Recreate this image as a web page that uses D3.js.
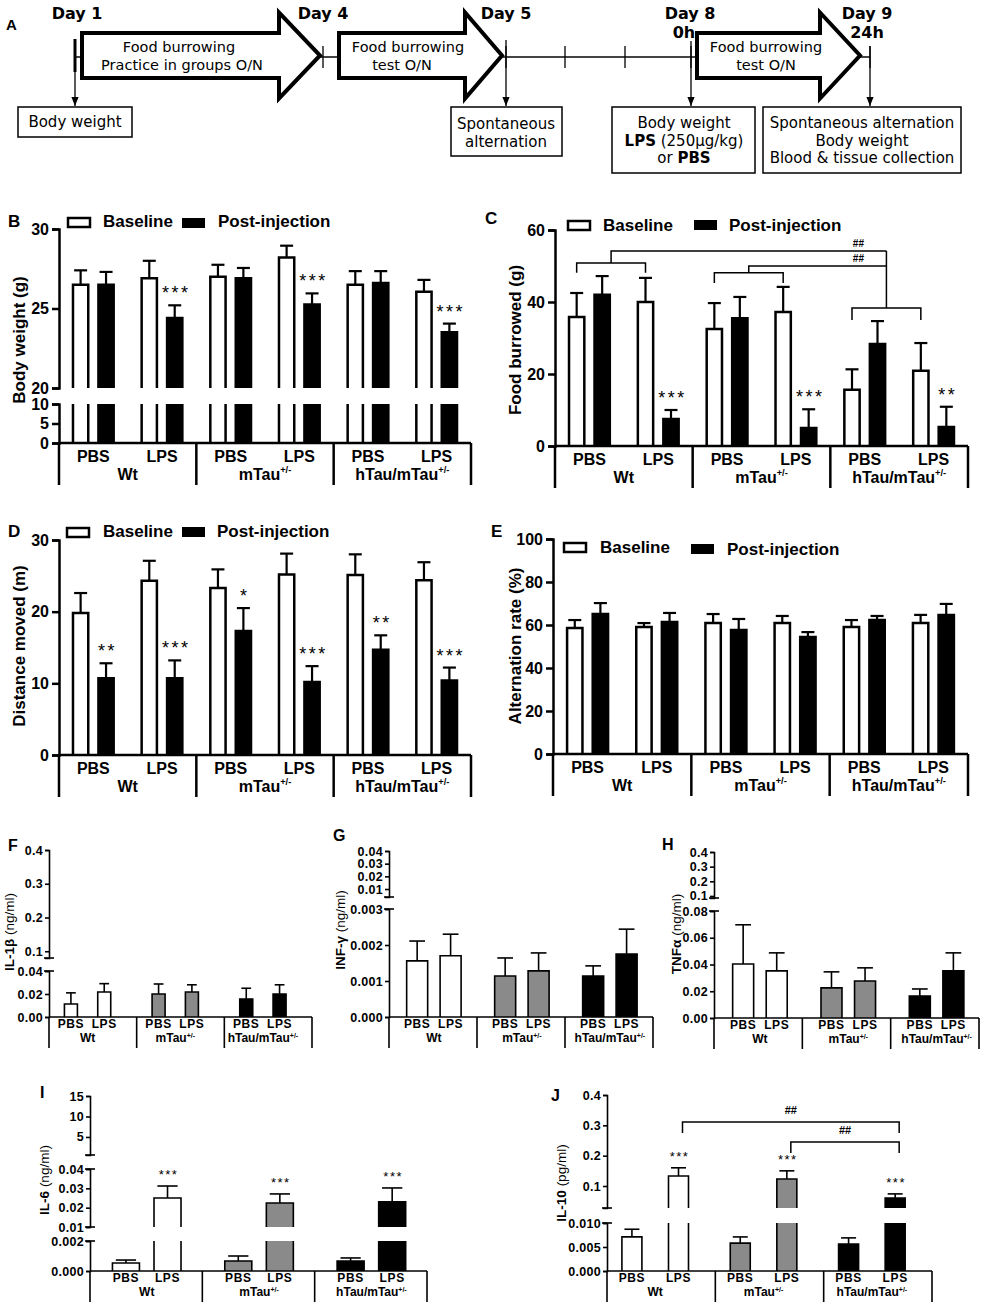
<!DOCTYPE html>
<html><head><meta charset="utf-8">
<script src="https://cdn.jsdelivr.net/npm/d3@7"></script>
<style>
body{margin:0;background:#fff}
svg{display:block}
</style>
</head><body>
<svg id="fig" width="984" height="1310"></svg>
<script>
// ---------------- DATA ----------------
const conditions = ["Wt PBS","Wt LPS","mTau PBS","mTau LPS","hTau PBS","hTau LPS"];
const treatments = ["PBS","LPS"];
const genotypes = ["Wt","mTau","hTau/mTau"];
const genotypeSup = ["","+/-","+/-"];
const seriesNames = ["Baseline","Post-injection"];

// B: body weight (g)
const bodyBase = [26.5, 26.9, 27.0, 28.2, 26.5, 26.05];
const bodyBaseErr = [0.9, 1.1, 0.75, 0.75, 0.85, 0.75];
const bodyPost = [26.5, 24.4, 26.9, 25.25, 26.6, 23.5];
const bodyPostErr = [0.8, 0.8, 0.65, 0.7, 0.75, 0.55];
const bodyStars = ["","***","","***","","***"];

// C: food burrowed (g)
const foodBase = [35.8, 40.0, 32.5, 37.2, 15.6, 20.9];
const foodBaseErr = [6.7, 6.7, 7.2, 7.0, 5.7, 7.7];
const foodPost = [42.0, 7.5, 35.5, 5.0, 28.3, 5.3];
const foodPostErr = [5.2, 2.5, 5.9, 5.2, 6.4, 5.6];
const foodStars = ["","***","","***","","**"];

// D: distance moved (m)
const distBase = [19.8, 24.3, 23.3, 25.2, 25.1, 24.4];
const distBaseErr = [2.8, 2.8, 2.6, 2.9, 2.9, 2.5];
const distPost = [10.7, 10.7, 17.3, 10.2, 14.7, 10.4];
const distPostErr = [2.1, 2.5, 3.2, 2.2, 2.0, 1.8];
const distStars = ["**","***","*","***","**","***"];

// E: alternation rate (%)
const altBase = [58.6, 59.1, 60.9, 60.9, 59.1, 60.9];
const altBaseErr = [3.7, 1.8, 4.2, 3.3, 3.2, 3.8];
const altPost = [65.1, 61.4, 57.7, 54.4, 62.3, 64.7];
const altPostErr = [5.1, 4.2, 5.1, 2.3, 1.9, 5.1];
const altStars = ["","","","","",""];

// F-J cytokines (order = conditions)
const il1b = [0.0113, 0.0217, 0.020, 0.0217, 0.0157, 0.020];
const il1bErr = [0.0097, 0.0073, 0.0087, 0.0063, 0.0093, 0.008];
const infg = [0.00156, 0.0017, 0.00114, 0.00128, 0.00114, 0.00175];
const infgErr = [0.00055, 0.0006, 0.0005, 0.0005, 0.00028, 0.00069];
const tnfa = [0.0404, 0.0352, 0.0225, 0.0277, 0.0165, 0.0352];
const tnfaErr = [0.0293, 0.0135, 0.012, 0.0098, 0.0052, 0.0135];
const il6 = [0.00053, 0.025, 0.00067, 0.0224, 0.00067, 0.023];
const il6Err = [0.0002, 0.0062, 0.00033, 0.0047, 0.0002, 0.0072];
const il6Stars = ["","***","","***","","***"];
const il10 = [0.0071, 0.133, 0.0058, 0.123, 0.0056, 0.06];
const il10Err = [0.0016, 0.027, 0.0013, 0.027, 0.0013, 0.014];
const il10Stars = ["","***","","***","","***"];
const genotypeFills = ["#ffffff","#8a8a8a","#000000"];

// Significance brackets (data units)
const foodBrackets = [
  {from:0, lvl:50.8, foot:48.1, top:54.2},
  {from:1, lvl:48.1, foot:45.3, top:50.0}
];
const foodTarget = {g:2, lvl:38.3, foot:35.0};
const il10Brackets = [
  {a:1, b:5, lvl:0.311, foot:0.275},
  {a:3, b:5, lvl:0.245, foot:0.209}
];

// ---------------- DRAWING ----------------
const FONT = "'Liberation Sans', Arial, Helvetica, sans-serif";
const DJ = "'DejaVu Sans', Verdana, sans-serif";
const svg = d3.select("#fig");

function txt(g, s, x, y, o={}){
  return g.append("text").attr("x",x).attr("y",y).text(s)
    .attr("font-family",o.ff||FONT).attr("font-size",o.fs||16)
    .attr("font-weight",o.fw||"bold").attr("text-anchor",o.anchor||"start")
    .attr("fill","#000");
}

function makeSegs(segs){
  return segs.map(s=>Object.assign({}, s, {scale:d3.scaleLinear().domain(s.d).range(s.r)}));
}

function drawAxes(g, x0, segs, o){
  segs.forEach(s=>{
    const ax = g.append("g").attr("transform",`translate(${x0},0)`)
      .call(d3.axisLeft(s.scale).tickValues(s.ticks).tickFormat(d3.format(s.fmt||"d"))
        .tickSizeOuter(0).tickSize(o.tick).tickPadding(o.pad));
    ax.select(".domain").attr("stroke","#000").attr("stroke-width",o.sw);
    ax.selectAll(".tick line").attr("stroke","#000").attr("stroke-width",o.sw);
    ax.selectAll(".tick text").attr("font-size",o.fs).attr("font-weight","bold")
      .attr("font-family",FONT).attr("fill","#000").attr("letter-spacing",o.ls||0);
  });
  if (o.breaks){
    segs.forEach((t,i)=>{
      const ys=[]; if(i>0) ys.push(t.r[0]); if(i<segs.length-1) ys.push(t.r[1]);
      ys.forEach(y=>g.append("line").attr("x1",x0-5).attr("x2",x0+5).attr("y1",y).attr("y2",y)
        .attr("stroke","#000").attr("stroke-width",o.sw));
    });
  }
}

function drawBar(g, x, w, v, segs, fill, sw){
  segs.forEach(s=>{
    if (v <= s.d[0]) return;
    const top = Math.min(v, s.d[1]);
    const yb = s.scale(s.d[0]), yt = s.scale(top);
    g.append("rect").attr("x",x).attr("y",yt).attr("width",w).attr("height",yb-yt).attr("fill",fill);
    let p = `M${x},${yb}V${yt}`;
    if (v <= s.d[1]) p += `H${x+w}`; else p += `M${x+w},${yt}`;
    p += `V${yb}`;
    g.append("path").attr("d",p).attr("fill","none").attr("stroke","#000").attr("stroke-width",sw);
  });
}

function segFor(segs, v){
  return segs.find(s=> v > s.d[0] && v <= s.d[1]) || segs[segs.length-1];
}

function drawErr(g, cx, v, e, segs, sw, cap){
  const s = segFor(segs, v+e);
  const y1 = s.scale(Math.max(v, s.d[0])), y2 = s.scale(v+e);
  g.append("line").attr("x1",cx).attr("x2",cx).attr("y1",y1).attr("y2",y2).attr("stroke","#000").attr("stroke-width",sw);
  g.append("line").attr("x1",cx-cap/2).attr("x2",cx+cap/2).attr("y1",y2).attr("y2",y2).attr("stroke","#000").attr("stroke-width",sw);
  return y2;
}

function genoLabel(g, i, x, y, fs, supRaise){
  const t = txt(g, genotypes[i], x, y, {fs:fs, anchor:"middle"});
  if (genotypeSup[i]){
    t.append("tspan").text(genotypeSup[i]).attr("font-size",fs*0.58).attr("dy",-fs*supRaise);
  }
  return t;
}

function behaviorPanel(o){
  const g = svg.append("g");
  const xC = d3.scaleBand().domain(conditions).range([o.x0,o.x1]);
  const xS = d3.scaleBand().domain(seriesNames).range([0,xC.bandwidth()]).paddingInner(0.4).paddingOuter(0.55);
  const segs = makeSegs(o.segs);
  const y0 = segs[0].scale(0);
  const bw = xS.bandwidth();
  conditions.forEach((c,i)=>{
    [[o.base,o.baseErr,"#fff"],[o.post,o.postErr,"#000"]].forEach((sr,k)=>{
      const x = xC(c)+xS(seriesNames[k]);
      drawBar(g, x, bw, sr[0][i], segs, sr[2], 2.5);
      const yt = drawErr(g, x+bw/2, sr[0][i], sr[1][i], segs, 2.2, 13);
      if (k===1 && o.stars[i]){
        txt(g, o.stars[i], x+bw/2+1.5, yt-6, {fs:18, fw:"normal", anchor:"middle"}).attr("letter-spacing",2.5);
      }
    });
  });
  drawAxes(g, o.x0, segs, {tick:7, pad:3, sw:2.5, fs:16});
  g.append("line").attr("x1",o.x0).attr("x2",o.x1).attr("y1",y0).attr("y2",y0).attr("stroke","#000").attr("stroke-width",2.5);
  const gw = (o.x1-o.x0)/3;
  [0,1,2,3].forEach(k=>{
    const x = o.x0 + k*gw;
    g.append("line").attr("x1",x).attr("x2",x).attr("y1",y0).attr("y2",y0+42).attr("stroke","#000").attr("stroke-width",2.5);
  });
  conditions.forEach((c,i)=>{
    txt(g, treatments[i%2], xC(c)+xC.bandwidth()/2, y0+19, {fs:16, anchor:"middle"});
  });
  genotypes.forEach((gn,i)=> genoLabel(g, i, o.x0+gw*(i+0.5), y0+37, 16, 0.45));
  g.append("rect").attr("x",o.leg[0][0]).attr("y",o.leg[0][1]).attr("width",22).attr("height",9)
    .attr("fill","#fff").attr("stroke","#000").attr("stroke-width",2.5);
  txt(g, seriesNames[0], o.leg[0][2], o.leg[0][3], {fs:17});
  g.append("rect").attr("x",o.leg[1][0]).attr("y",o.leg[1][1]-1).attr("width",23).attr("height",10).attr("fill","#000");
  txt(g, seriesNames[1], o.leg[1][2], o.leg[1][3], {fs:17});
  txt(g, o.letter[0], o.letter[1], o.letter[2], {fs:17});
  txt(g, o.ylabel[0], 0, 0, {fs:17, anchor:"middle"}).attr("transform",`translate(${o.ylabel[1]},${o.ylabel[2]}) rotate(-90)`);
  return {g, xC, xS, segs};
}

const pB = behaviorPanel({x0:59, x1:471,
  segs:[{d:[0,10], r:[443,404], ticks:[0,5,10]},{d:[20,30], r:[388,229], ticks:[20,25,30]}],
  base:bodyBase, baseErr:bodyBaseErr, post:bodyPost, postErr:bodyPostErr, stars:bodyStars,
  letter:["B",8,227], ylabel:["Body weight (g)",25,340], leg:[[68,218,103,227],[182,219,218,227]]});
const pC = behaviorPanel({x0:555, x1:968,
  segs:[{d:[0,60], r:[446,230], ticks:[0,20,40,60]}],
  base:foodBase, baseErr:foodBaseErr, post:foodPost, postErr:foodPostErr, stars:foodStars,
  letter:["C",485,224], ylabel:["Food burrowed (g)",521,340], leg:[[568,221,603,231],[694,221,729,231]]});
const pD = behaviorPanel({x0:59, x1:471,
  segs:[{d:[0,30], r:[755,540], ticks:[0,10,20,30]}],
  base:distBase, baseErr:distBaseErr, post:distPost, postErr:distPostErr, stars:distStars,
  letter:["D",8,537], ylabel:["Distance moved (m)",25,646], leg:[[67,528,103,537],[182,528,217,537]]});
const pE = behaviorPanel({x0:553, x1:968,
  segs:[{d:[0,100], r:[754,539], ticks:[0,20,40,60,80,100]}],
  base:altBase, baseErr:altBaseErr, post:altPost, postErr:altPostErr, stars:altStars,
  letter:["E",491,537], ylabel:["Alternation rate (%)",521,646], leg:[[564,543,600,553],[691,545,727,555]]});

// C brackets
(function(){
  const {g, xC, xS, segs} = pC; const y = segs[0].scale;
  const cx = i => xC(conditions[i]) + xS("Baseline") + xS.bandwidth()/2;
  const tx1 = cx(foodTarget.g*2), tx2 = cx(foodTarget.g*2+1), tmid = (tx1+tx2)/2;
  function path(d){ g.append("path").attr("d",d).attr("stroke","#000").attr("stroke-width",1.5).attr("fill","none"); }
  path(`M${tx1},${y(foodTarget.foot)}V${y(foodTarget.lvl)}H${tx2}V${y(foodTarget.foot)}`);
  foodBrackets.forEach(b=>{
    const a1 = cx(b.from*2), a2 = cx(b.from*2+1), m = (a1+a2)/2;
    path(`M${a1},${y(b.foot)}V${y(b.lvl)}H${a2}V${y(b.foot)}`);
    path(`M${m},${y(b.lvl)}V${y(b.top)}H${tmid}`);
    txt(g, "##", tmid-28, y(b.top)-4, {fs:10, anchor:"middle"});
  });
  path(`M${tmid},${y(foodBrackets[0].top)}V${y(foodTarget.lvl)}`);
})();

function cytoPanel(o){
  const g = svg.append("g");
  const xG = d3.scaleBand().domain(genotypes).range([o.x0,o.x1]);
  const segs = makeSegs(o.segs);
  const y0 = segs[0].scale(0);
  const gw = xG.bandwidth();
  const cxs = conditions.map((c,i)=> xG(genotypes[i>>1]) + o.off[i%2]*gw);
  conditions.forEach((c,i)=>{
    const x = cxs[i]-o.bw/2;
    drawBar(g, x, o.bw, o.vals[i], segs, genotypeFills[i>>1], 1.6);
    const yt = drawErr(g, cxs[i], o.vals[i], o.errs[i], segs, 1.6, o.bw*0.75);
    if (o.stars && o.stars[i]) txt(g, o.stars[i], cxs[i]+1, yt-7, {fs:13, fw:"normal", anchor:"middle"}).attr("letter-spacing",1.5);
    txt(g, treatments[i%2], cxs[i], y0+11, {fs:12, anchor:"middle"}).attr("letter-spacing",0.6);
  });
  drawAxes(g, o.x0, segs, {tick:4, pad:2, sw:1.6, fs:12.5, ls:0.3, breaks:true});
  g.append("line").attr("x1",o.x0).attr("x2",o.x1).attr("y1",y0).attr("y2",y0).attr("stroke","#000").attr("stroke-width",1.6);
  [0,1,2,3].forEach(k=>{
    const x = o.x0 + k*gw;
    g.append("line").attr("x1",x).attr("x2",x).attr("y1",y0).attr("y2",y0+31).attr("stroke","#000").attr("stroke-width",1.6);
  });
  genotypes.forEach((gn,i)=> genoLabel(g, i, (cxs[2*i]+cxs[2*i+1])/2, y0+25, 12, 0.3));
  txt(g, o.letter[0], o.letter[1], o.letter[2], {fs:16});
  const yl = txt(g, o.ylabel[0], 0, 0, {fs:13.5, anchor:"middle"}).attr("transform",`translate(${o.ylabel[2]},${o.ylabel[3]}) rotate(-90)`);
  yl.append("tspan").text(o.ylabel[1]).attr("font-weight","normal");
  return {g, cxs, segs};
}

cytoPanel({x0:49, x1:312, vals:il1b, errs:il1bErr, off:[0.25,0.63], bw:13,
  segs:[{d:[0,0.04], r:[1017,971], ticks:[0,0.02,0.04], fmt:".2f"},{d:[0.08,0.4], r:[958,850], ticks:[0.1,0.2,0.3,0.4], fmt:".1f"}],
  letter:["F",8,851], ylabel:["IL-1β"," (ng/ml)",14,932]});
cytoPanel({x0:389, x1:653, vals:infg, errs:infgErr, off:[0.32,0.70], bw:21,
  segs:[{d:[0,0.003], r:[1017,909], ticks:[0,0.001,0.002,0.003], fmt:".3f"},{d:[0.0037,0.04], r:[897,851], ticks:[0.01,0.02,0.03,0.04], fmt:".2f"}],
  letter:["G",333,841], ylabel:["INF-γ"," (ng/ml)",345,930]});
cytoPanel({x0:714, x1:979, vals:tnfa, errs:tnfaErr, off:[0.33,0.71], bw:21,
  segs:[{d:[0,0.08], r:[1018,911], ticks:[0,0.02,0.04,0.06,0.08], fmt:".2f"},{d:[0.086,0.4], r:[898,852], ticks:[0.1,0.2,0.3,0.4], fmt:".1f"}],
  letter:["H",662,850], ylabel:["TNFα"," (ng/ml)",681,934]});
cytoPanel({x0:90, x1:427, vals:il6, errs:il6Err, off:[0.32,0.69], bw:27, stars:il6Stars,
  segs:[{d:[0,0.002], r:[1271,1241], ticks:[0,0.002], fmt:".3f"},{d:[0.01,0.04], r:[1227,1169], ticks:[0.01,0.02,0.03,0.04], fmt:".2f"},{d:[0.6,15], r:[1155,1096], ticks:[5,10,15], fmt:"d"}],
  letter:["I",40,1098], ylabel:["IL-6"," (ng/ml)",49,1180]});
const pJ = cytoPanel({x0:607, x1:932, vals:il10, errs:il10Err, off:[0.23,0.66], bw:20, stars:il10Stars,
  segs:[{d:[0,0.01], r:[1271,1223], ticks:[0,0.005,0.01], fmt:".3f"},{d:[0.0275,0.4], r:[1208,1095], ticks:[0.1,0.2,0.3,0.4], fmt:".1f"}],
  letter:["J",551,1101], ylabel:["IL-10"," (pg/ml)",566,1183]});
(function(){
  const {g, cxs, segs} = pJ; const y = segs[1].scale;
  il10Brackets.forEach(b=>{
    const x1 = cxs[b.a]+4, x2 = cxs[b.b]+4;
    g.append("path").attr("d",`M${x1},${y(b.foot)}V${y(b.lvl)}H${x2}V${y(b.foot)}`)
      .attr("fill","none").attr("stroke","#000").attr("stroke-width",1.5);
    txt(g, "##", (x1+x2)/2, y(b.lvl)-8, {fs:11, anchor:"middle"});
  });
})();

// ---------------- PANEL A: timeline ----------------
(function(){
  const g = svg.append("g");
  txt(g, "A", 6, 30, {fs:15});
  const defs = svg.append("defs");
  defs.append("marker").attr("id","ah").attr("viewBox","0 0 10 10").attr("refX",10).attr("refY",5)
    .attr("markerWidth",7).attr("markerHeight",7).attr("orient","auto")
    .append("path").attr("d","M0,1L10,5L0,9Z").attr("fill","#000");
  const lineY = 57;
  g.append("line").attr("x1",75).attr("x2",870).attr("y1",lineY).attr("y2",lineY).attr("stroke","#444").attr("stroke-width",2);
  const ticks = [323,506,565,625,691,870];
  ticks.forEach(x=>g.append("line").attr("x1",x).attr("x2",x).attr("y1",46).attr("y2",68).attr("stroke","#000").attr("stroke-width",1.3));
  g.append("line").attr("x1",75).attr("x2",75).attr("y1",39).attr("y2",72).attr("stroke","#000").attr("stroke-width",3);
  const arrows = [[82,279,320],[339,465,502],[697,820,860]];
  arrows.forEach(a=>{
    const cy=55.5, sh=22.5, hh=43;
    g.append("path").attr("d",`M${a[0]},${cy-sh}H${a[1]}V${cy-hh}L${a[2]},${cy}L${a[1]},${cy+hh}V${cy+sh}H${a[0]}Z`)
      .attr("fill","#fff").attr("stroke","#000").attr("stroke-width",4).attr("stroke-linejoin","miter");
  });
  const drops = [[75,57],[506,40],[691,41],[870,46]];
  drops.forEach(d=>g.append("line").attr("x1",d[0]).attr("x2",d[0]).attr("y1",d[1]).attr("y2",106)
    .attr("stroke","#000").attr("stroke-width",1.3).attr("marker-end","url(#ah)"));
  const boxes = [[18,107,114,30],[451,107,111,49],[612,107,143,66],[763,107,198,66]];
  boxes.forEach(b=>g.append("rect").attr("x",b[0]).attr("y",b[1]).attr("width",b[2]).attr("height",b[3])
    .attr("fill","#fff").attr("stroke","#000").attr("stroke-width",1.5));
  const dj = {ff:DJ, fs:15, fw:"normal", anchor:"middle"};
  const djb = {ff:DJ, fs:16, fw:"bold", anchor:"middle"};
  [["Day 1",77,19],["Day 4",323,19],["Day 5",506,19],["Day 8",690,19],["0h",684,38],["Day 9",867,19],["24h",867,38]]
    .forEach(d=>txt(g, d[0], d[1], d[2], djb));
  [["Food burrowing",179,52],["Practice in groups O/N",182,70],["Food burrowing",408,52],["test O/N",402,70],
   ["Food burrowing",766,52],["test O/N",766,70]].forEach(d=>txt(g,d[0],d[1],d[2],Object.assign({},dj,{fs:14.5})));
  [["Body weight",75,127],["Spontaneous",506,129],["alternation",506,147],["Body weight",684,128],
   ["Spontaneous alternation",862,128],["Body weight",862,146],["Blood & tissue collection",862,163]]
    .forEach(d=>txt(g,d[0],d[1],d[2],dj));
  const t1 = txt(g, "LPS", 684, 146, djb).attr("font-size",15);
  t1.append("tspan").text(" (250µg/kg)").attr("font-weight","normal");
  const t2 = txt(g, "or ", 684, 163, dj);
  t2.append("tspan").text("PBS").attr("font-weight","bold");
})();
</script>
</body></html>
